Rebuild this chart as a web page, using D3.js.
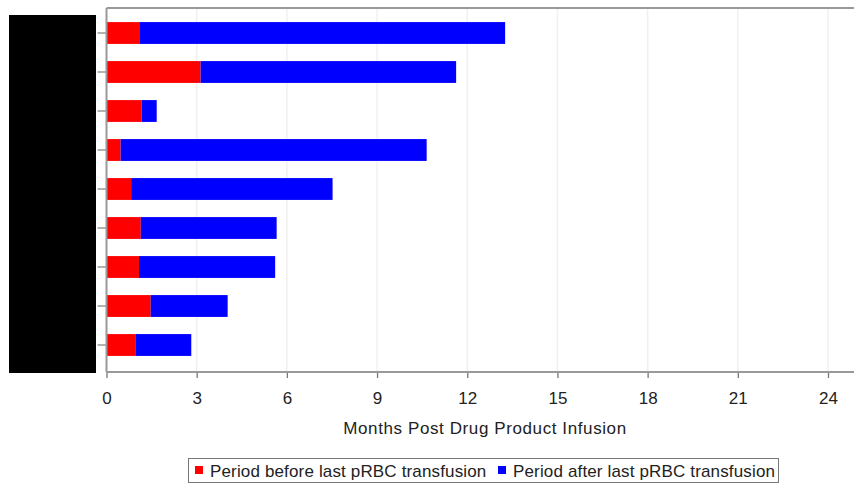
<!DOCTYPE html>
<html><head><meta charset="utf-8">
<script src="https://cdn.jsdelivr.net/npm/d3@7"></script>
<style>body{margin:0;background:#fff}svg{display:block}text{font-family:"Liberation Sans",Arial,sans-serif}</style>
</head><body>
<svg id="c" width="854" height="485"></svg>
<script>
const categories = ["Subject 1","Subject 2","Subject 3","Subject 4","Subject 5","Subject 6","Subject 7","Subject 8","Subject 9"];
const beforeValues = [1.09, 3.13, 1.17, 0.47, 0.82, 1.14, 1.08, 1.47, 0.96];
const totalValues = [13.26, 11.63, 1.67, 10.65, 7.52, 5.66, 5.61, 4.03, 2.82];
const xTicks = [0,3,6,9,12,15,18,21,24];
const seriesNames = ["Period before last pRBC transfusion","Period after last pRBC transfusion"];
const colors = ["#ff0000","#0000ff"];

const svg = d3.select("#c");
const L = 106.5, R = 854, T = 8, B = 372;
const x = d3.scaleLinear().domain([0, 24]).range([L, 828]);
const y = d3.scaleBand().domain(categories).range([13.5, 364.5]).paddingInner(0.44).paddingOuter(0.22);

// gridlines
svg.append("g").selectAll("line").data(xTicks.filter(d=>d>0)).join("line")
  .attr("x1", d=>x(d)).attr("x2", d=>x(d)).attr("y1", T).attr("y2", B)
  .attr("stroke", "#f0f0f0").attr("stroke-width", 1.5);

// bars
const g = svg.append("g");
g.selectAll("rect.b").data(categories).join("rect").attr("class","b")
  .attr("x", x(0)).attr("y", d=>y(d))
  .attr("width", (d,i)=>x(beforeValues[i])-x(0)).attr("height", y.bandwidth()).attr("fill", colors[0]);
g.selectAll("rect.a").data(categories).join("rect").attr("class","a")
  .attr("x", (d,i)=>x(beforeValues[i])).attr("y", d=>y(d))
  .attr("width", (d,i)=>x(totalValues[i])-x(beforeValues[i])).attr("height", y.bandwidth()).attr("fill", colors[1]);

// top border
svg.append("line").attr("x1", L).attr("x2", R).attr("y1", T).attr("y2", T).attr("stroke", "#999").attr("stroke-width", 2);

// x axis
const xa = svg.append("g").attr("transform", `translate(0,${B})`)
  .call(d3.axisBottom(x).tickValues(xTicks).tickSize(6).tickSizeOuter(0).tickPadding(14));
xa.select(".domain").remove();
xa.append("line").attr("x1", L).attr("x2", R).attr("stroke", "#999").attr("stroke-width", 2);
xa.selectAll(".tick line").attr("stroke", "#777").attr("stroke-width", 1.3);
xa.selectAll(".tick text").attr("fill", "#222").attr("font-size", 17);

// redaction box (category labels hidden, as in the source)
svg.append("rect").attr("x", 9).attr("y", 15).attr("width", 87).attr("height", 358).attr("fill", "#000");

// y axis
const ya = svg.append("g").attr("transform", `translate(${L},0)`)
  .call(d3.axisLeft(y).tickSize(9).tickSizeOuter(0).tickPadding(14));
ya.select(".domain").remove();
ya.append("line").attr("y1", T).attr("y2", B).attr("stroke", "#999").attr("stroke-width", 2);
ya.selectAll(".tick line").attr("stroke", "#888").attr("stroke-width", 1.3);
ya.selectAll(".tick text").attr("fill", "#000").attr("font-size", 13);

// axis title
svg.append("text").attr("x", 485).attr("y", 434).attr("text-anchor", "middle")
  .attr("font-size", 17).attr("letter-spacing", 0.6).attr("fill", "#222").text("Months Post Drug Product Infusion");

// legend
const lg = svg.append("g");
lg.append("rect").attr("x", 188.5).attr("y", 458.5).attr("width", 590).attr("height", 24)
  .attr("fill", "#fff").attr("stroke", "#777").attr("stroke-width", 1);
const items = lg.selectAll("g").data(seriesNames).join("g")
  .attr("transform", (d,i)=>`translate(${i===0?195:498},470)`);
items.append("rect").attr("x", 0).attr("y", -4).attr("width", 8).attr("height", 8).attr("fill", (d,i)=>colors[i]);
items.append("text").attr("x", 15).attr("y", 6.5).attr("font-size", 17).attr("letter-spacing", 0.15).attr("fill", "#222").text(d=>d);
</script>
</body></html>
